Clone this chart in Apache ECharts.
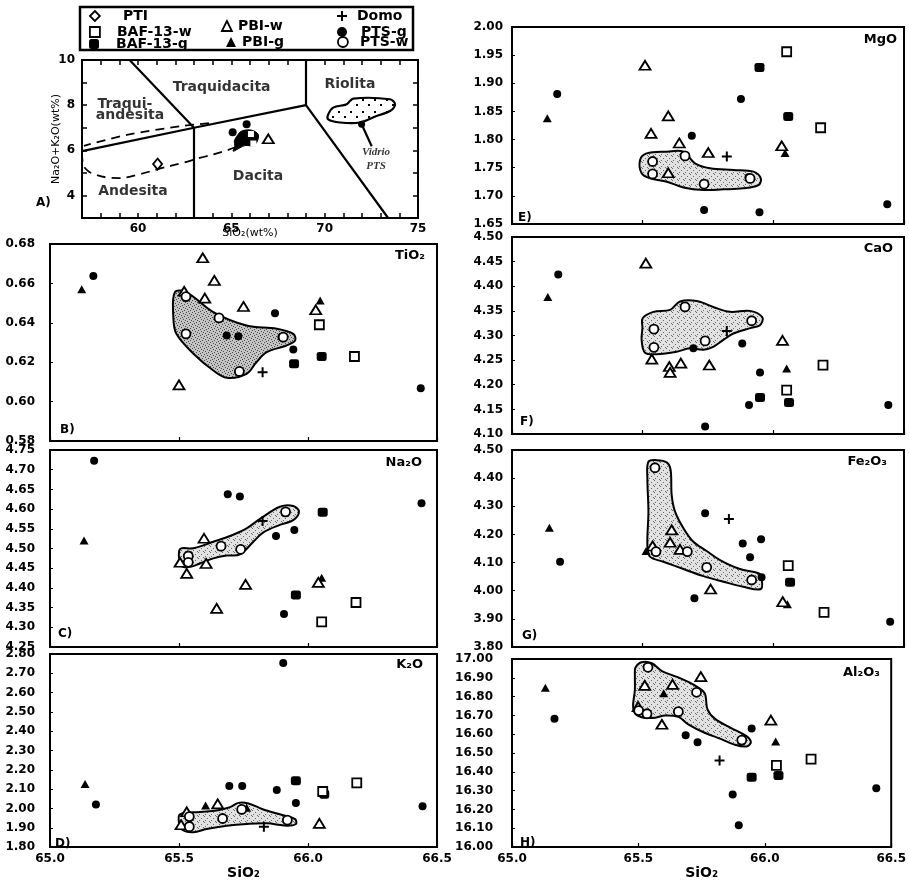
<!DOCTYPE html>
<html><head><meta charset="utf-8">
<script src="https://cdn.jsdelivr.net/npm/echarts/dist/echarts.min.js"></script>
<style>html,body{margin:0;padding:0;background:#fff}#c{width:909px;height:881px}</style>
</head><body><div id="c"></div>
<script>
// ---------------- DATA ----------------
// Panel A (TAS)
const A_PTI = [[61.05,5.39]];
const A_PTS_g = [[65.07,6.8],[65.82,7.15]];
const A_PBI_w = [[66.98,6.51]];
const A_BAF_w = [[66.05,6.72],[66.18,6.3]];
const A_cluster = [[65.29,6.62],[65.55,6.85],[66.09,6.89],[66.44,6.7],[66.39,6.4],[66.17,6.21],[65.73,6.21],[65.46,6.11],[65.1,5.96],[65.19,6.18],[65.16,6.4]];
const A_glass = [[70.19,7.59],[70.46,7.89],[71.18,8.04],[71.53,8.29],[73.5,8.26],[73.77,8.04],[73.5,7.74],[72.78,7.52],[71.89,7.23],[70.82,7.23],[70.19,7.37]];
const A_glassPointer = [[71.98,7.15],[72.52,6.18]];
const A_line1 = [[57,5.96],[63,7],[69,8]];
const A_line2 = [[63,3],[63,7],[59.55,10]];
const A_line3 = [[69,10],[69,8],[73.4,3]];
const A_dashUpper = [[63.8,7.2],[62.3,7.07],[59.4,6.68],[57.1,6.2]];
const A_dashLower = [[57.0,5.9],[57.05,5.4],[57.3,5.1],[57.7,4.93],[58.3,4.8],[59.0,4.77],[60.0,4.92],[61.3,5.22],[62.3,5.42],[63.3,5.66],[64.7,5.98],[65.4,6.2]];
const A_fieldNames = ['Traquidacita','Riolita','Traqui-','andesita','Andesita','Dacita'];
const A_fieldPos = [[64.48,8.8],[71.35,8.93],[59.3,8.04],[59.57,7.56],[59.73,4.16],[66.43,4.84]];
const A_xTicks = [60,65,70,75];
const A_yTicks = [4,6,8,10];

// Panel B TiO2
const B_PBI_w = [[65.592,0.673],[65.637,0.6615],[65.52,0.656],[65.60,0.6525],[65.75,0.6483],[65.50,0.6085],[66.03,0.6466]];
const B_PBI_g = [[65.123,0.657],[66.047,0.6513]];
const B_PTS_w = [[65.527,0.6533],[65.527,0.6344],[65.655,0.6425],[65.734,0.6153],[65.904,0.6327]];
const B_PTS_g = [[65.168,0.6637],[65.685,0.6336],[65.73,0.6332],[65.872,0.6449],[65.897,0.6328],[65.943,0.6264],[66.437,0.6068]];
const B_BAF_w = [[66.044,0.639],[66.18,0.6229]];
const B_BAF_g = [[65.946,0.6192],[66.053,0.6229]];
const B_Domo = [[65.824,0.6149]];
const B_field = [[65.484,0.6555],[65.53,0.6555],[65.633,0.6454],[65.762,0.6386],[65.879,0.637],[65.943,0.6344],[65.95,0.631],[65.917,0.6285],[65.84,0.6251],[65.80,0.62],[65.762,0.6141],[65.685,0.6121],[65.633,0.6158],[65.556,0.6243],[65.49,0.6344],[65.478,0.6428]];

// Panel C Na2O
const C_PBI_w = [[65.597,4.526],[65.504,4.465],[65.605,4.462],[65.53,4.437],[65.758,4.409],[65.646,4.348],[66.04,4.414]];
const C_PBI_g = [[65.132,4.52],[66.053,4.426]];
const C_PTS_w = [[65.913,4.593],[65.663,4.506],[65.739,4.498],[65.536,4.481],[65.536,4.465]];
const C_PTS_g = [[65.171,4.723],[65.689,4.6375],[65.736,4.632],[66.44,4.615],[65.947,4.547],[65.876,4.532],[65.907,4.334]];
const C_BAF_w = [[66.053,4.314],[66.186,4.363]];
const C_BAF_g = [[66.057,4.592],[65.953,4.382]];
const C_Domo = [[65.824,4.57]];
const C_field = [[65.504,4.4987],[65.555,4.5005],[65.633,4.517],[65.71,4.535],[65.762,4.551],[65.814,4.575],[65.891,4.606],[65.943,4.608],[65.965,4.593],[65.943,4.572],[65.891,4.56],[65.827,4.541],[65.788,4.517],[65.736,4.485],[65.685,4.482],[65.633,4.475],[65.581,4.462],[65.549,4.454],[65.51,4.456]];

// Panel D K2O
const D_PBI_w = [[66.044,1.923],[65.65,2.024],[65.53,1.983],[65.508,1.916]];
const D_PBI_g = [[65.136,2.127],[65.603,2.016],[65.762,2.004]];
const D_PTS_w = [[65.743,1.995],[65.669,1.948],[65.54,1.958],[65.54,1.906],[65.92,1.94]];
const D_PTS_g = [[65.904,2.753],[65.178,2.021],[65.695,2.117],[65.745,2.117],[65.879,2.096],[65.953,2.029],[66.444,2.012]];
const D_BAF_w = [[66.057,2.088],[66.189,2.133]];
const D_BAF_g = [[65.953,2.143],[66.063,2.074]];
const D_Domo = [[65.829,1.906]];
const D_field = [[65.504,1.97],[65.581,1.982],[65.646,1.99],[65.698,2.007],[65.73,2.029],[65.769,2.026],[65.827,1.995],[65.904,1.965],[65.95,1.945],[65.953,1.92],[65.917,1.911],[65.84,1.923],[65.762,1.92],[65.685,1.911],[65.607,1.894],[65.556,1.877],[65.517,1.886],[65.501,1.92]];

// Panel E MgO
const E_PBI_w = [[65.509,1.932],[65.598,1.842],[65.532,1.811],[65.64,1.794],[65.751,1.777],[65.598,1.741],[66.032,1.789]];
const E_PBI_g = [[65.135,1.838],[66.045,1.776]];
const E_PTS_w = [[65.538,1.761],[65.538,1.739],[65.662,1.771],[65.735,1.721],[65.911,1.731]];
const E_PTS_g = [[65.173,1.881],[65.688,1.807],[65.876,1.872],[65.905,1.733],[65.735,1.675],[65.947,1.671],[66.436,1.685]];
const E_BAF_w = [[66.051,1.956],[66.181,1.821]];
const E_BAF_g = [[65.947,1.928],[66.057,1.841]];
const E_Domo = [[65.822,1.770]];
const E_field = [[65.49,1.7637],[65.515,1.7755],[65.592,1.7785],[65.656,1.7785],[65.70,1.7578],[65.758,1.749],[65.847,1.746],[65.924,1.743],[65.952,1.731],[65.943,1.719],[65.885,1.7134],[65.809,1.7116],[65.732,1.7104],[65.656,1.715],[65.592,1.725],[65.528,1.731],[65.496,1.74]];

// Panel F CaO
const F_PBI_w = [[65.512,4.447],[65.535,4.252],[65.602,4.237],[65.605,4.225],[65.646,4.244],[65.755,4.24],[66.035,4.29]];
const F_PBI_g = [[65.137,4.378],[66.051,4.233]];
const F_PTS_w = [[65.662,4.358],[65.543,4.313],[65.543,4.276],[65.739,4.289],[65.917,4.33]];
const F_PTS_g = [[65.177,4.424],[65.694,4.274],[65.881,4.284],[65.949,4.225],[65.907,4.159],[65.739,4.115],[66.44,4.159]];
const F_BAF_w = [[66.19,4.24],[66.051,4.189]];
const F_BAF_g = [[65.949,4.174],[66.06,4.164]];
const F_Domo = [[65.822,4.309]];
const F_field = [[65.5,4.335],[65.541,4.348],[65.605,4.352],[65.643,4.369],[65.707,4.37],[65.77,4.358],[65.834,4.348],[65.911,4.35],[65.958,4.337],[65.949,4.321],[65.911,4.315],[65.847,4.304],[65.809,4.291],[65.77,4.277],[65.732,4.271],[65.681,4.274],[65.63,4.267],[65.554,4.262],[65.509,4.265],[65.496,4.291],[65.499,4.315]];

// Panel G Fe2O3
const G_PBI_w = [[65.611,4.216],[65.605,4.172],[65.538,4.159],[65.643,4.147],[65.76,4.006],[66.036,3.961]];
const G_PBI_g = [[65.143,4.224],[65.513,4.141],[66.054,3.952]];
const G_PTS_w = [[65.547,4.437],[65.551,4.139],[65.671,4.139],[65.745,4.083],[65.917,4.038]];
const G_PTS_g = [[65.184,4.103],[65.739,4.275],[65.883,4.168],[65.953,4.183],[65.911,4.119],[65.955,4.048],[65.698,3.973],[66.447,3.89]];
const G_BAF_w = [[66.057,4.089],[66.194,3.923]];
const G_BAF_g = [[66.064,4.03]];
const G_Domo = [[65.83,4.255]];
const G_field = [[65.522,4.458],[65.554,4.464],[65.592,4.456],[65.607,4.429],[65.611,4.34],[65.624,4.281],[65.656,4.222],[65.694,4.174],[65.745,4.141],[65.796,4.109],[65.872,4.077],[65.943,4.062],[65.955,4.044],[65.952,4.006],[65.885,4.014],[65.809,4.032],[65.732,4.052],[65.656,4.077],[65.579,4.103],[65.528,4.121],[65.518,4.162],[65.522,4.281],[65.518,4.399]];

// Panel H Al2O3
const H_PBI_w = [[65.747,16.906],[65.525,16.86],[65.635,16.865],[65.499,16.747],[65.593,16.653],[66.024,16.675]];
const H_PBI_g = [[65.132,16.847],[65.60,16.818],[66.043,16.562]];
const H_PTS_w = [[65.538,16.956],[65.73,16.823],[65.501,16.726],[65.534,16.709],[65.658,16.72],[65.909,16.569]];
const H_PTS_g = [[65.168,16.683],[65.687,16.594],[65.734,16.557],[65.948,16.63],[65.873,16.279],[65.897,16.116],[66.441,16.313]];
const H_BAF_w = [[66.046,16.434],[66.183,16.468]];
const H_BAF_g = [[65.948,16.372],[66.054,16.38]];
const H_Domo = [[65.821,16.461]];
const H_field = [[65.488,16.953],[65.512,16.983],[65.553,16.978],[65.593,16.936],[65.658,16.902],[65.723,16.86],[65.762,16.818],[65.773,16.734],[65.802,16.683],[65.867,16.633],[65.926,16.591],[65.945,16.557],[65.926,16.535],[65.88,16.545],[65.828,16.574],[65.762,16.608],[65.697,16.653],[65.658,16.692],[65.606,16.7],[65.567,16.688],[65.521,16.688],[65.488,16.709],[65.479,16.751],[65.486,16.835],[65.486,16.919]];

const oxideNames = ['TiO₂','Na₂O','K₂O','MgO','CaO','Fe₂O₃','Al₂O₃'];
const panelLetters = ['B)','C)','D)','E)','F)','G)','H)'];
const yRanges = [[0.58,0.68,0.02],[4.25,4.75,0.05],[1.80,2.80,0.1],[1.65,2.00,0.05],[4.10,4.50,0.05],[3.80,4.50,0.1],[16.00,17.00,0.1]];
const legendNames = ['PTI','BAF-13-w','BAF-13-g','PBI-w','PBI-g','Domo','PTS-g','PTS-w'];

// ---------------- STYLE ----------------
const FONT = 'DejaVu Sans';
function mkPattern(size, bg, dots, dotColor, ds){
  const c=document.createElement('canvas'); c.width=c.height=size;
  const g=c.getContext('2d');
  g.fillStyle=bg; g.fillRect(0,0,size,size);
  g.fillStyle=dotColor; dots.forEach(d=>g.fillRect(d[0],d[1],ds,ds));
  return {image:c, repeat:'repeat'};
}
const densePat = mkPattern(6,'#c4c4c4',[[0,0],[3,1],[1,3],[4,4],[2,5],[5,2]],'#4a4a4a',1);
const lightPat = mkPattern(6,'#e2e2e2',[[0,0],[3,2],[1,4],[5,5]],'#6a6a6a',1);
const sparsePat = mkPattern(12,'#ffffff',[[2,3],[8,8]],'#000',2);

const hollow = {color:'#fff', borderColor:'#000', borderWidth:1.8, opacity:1};
const filled = {color:'#000', borderColor:'#000', borderWidth:0, opacity:1};
const PLUS = 'path://M4,0H6V4H10V6H6V10H4V6H0V4H4Z';
const SYM = {
  'PTI':{symbol:'diamond', size:[9,11], st:hollow},
  'BAF-13-w':{symbol:'rect', size:9, st:hollow},
  'BAF-13-g':{symbol:'roundRect', size:[10,9], st:filled},
  'PBI-w':{symbol:'triangle', size:[11,9], st:hollow},
  'PBI-g':{symbol:'triangle', size:[9,8], st:filled},
  'Domo':{symbol:PLUS, size:10, st:filled},
  'PTS-g':{symbol:'circle', size:8, st:filled},
  'PTS-w':{symbol:'circle', size:9, st:hollow}
};
const ORDER = ['BAF-13-g','PTS-g','PBI-g','BAF-13-w','PBI-w','PTS-w','Domo'];

const panels = [
  {d:{'PBI-w':B_PBI_w,'PBI-g':B_PBI_g,'PTS-w':B_PTS_w,'PTS-g':B_PTS_g,'BAF-13-w':B_BAF_w,'BAF-13-g':B_BAF_g,'Domo':B_Domo}, f:B_field, pat:densePat},
  {d:{'PBI-w':C_PBI_w,'PBI-g':C_PBI_g,'PTS-w':C_PTS_w,'PTS-g':C_PTS_g,'BAF-13-w':C_BAF_w,'BAF-13-g':C_BAF_g,'Domo':C_Domo}, f:C_field, pat:lightPat},
  {d:{'PBI-w':D_PBI_w,'PBI-g':D_PBI_g,'PTS-w':D_PTS_w,'PTS-g':D_PTS_g,'BAF-13-w':D_BAF_w,'BAF-13-g':D_BAF_g,'Domo':D_Domo}, f:D_field, pat:lightPat},
  {d:{'PBI-w':E_PBI_w,'PBI-g':E_PBI_g,'PTS-w':E_PTS_w,'PTS-g':E_PTS_g,'BAF-13-w':E_BAF_w,'BAF-13-g':E_BAF_g,'Domo':E_Domo}, f:E_field, pat:lightPat},
  {d:{'PBI-w':F_PBI_w,'PBI-g':F_PBI_g,'PTS-w':F_PTS_w,'PTS-g':F_PTS_g,'BAF-13-w':F_BAF_w,'BAF-13-g':F_BAF_g,'Domo':F_Domo}, f:F_field, pat:lightPat},
  {d:{'PBI-w':G_PBI_w,'PBI-g':G_PBI_g,'PTS-w':G_PTS_w,'PTS-g':G_PTS_g,'BAF-13-w':G_BAF_w,'BAF-13-g':G_BAF_g,'Domo':G_Domo}, f:G_field, pat:lightPat},
  {d:{'PBI-w':H_PBI_w,'PBI-g':H_PBI_g,'PTS-w':H_PTS_w,'PTS-g':H_PTS_g,'BAF-13-w':H_BAF_w,'BAF-13-g':H_BAF_g,'Domo':H_Domo}, f:H_field, pat:lightPat}
];

// layout
const gridRects = [
  {left:82, top:60, width:336, height:158},
  {left:50, top:244, width:387, height:197},
  {left:50, top:450, width:387, height:197},
  {left:50, top:654, width:387, height:198},
  {left:512, top:27, width:392, height:197},
  {left:512, top:237, width:392, height:197},
  {left:512, top:450, width:392, height:197},
  {left:512, top:659, width:383, height:198}
];
const yMargins = [15,15,15,9,9,9,19];
const oxidePos = [[484,249],[487,456],[486,658],[12,33],[16,242],[22,455],[29,666]];
const letterPos = [[60,424],[58,628],[55,838],[518,212],[520,416],[522,630],[520,837]];

const grids = gridRects.map(r=>Object.assign({show:true, borderColor:'#000', borderWidth:2, backgroundColor:'rgba(0,0,0,0)'}, r));

const tickLbl = {fontFamily:FONT, fontWeight:'bold', fontSize:12, color:'#000'};
const xAxes = [], yAxes = [];
// Panel A axes
xAxes.push({type:'value', gridIndex:0, min:57, max:75, interval:1, axisLine:{show:false},
  axisTick:{inside:true, length:5, lineStyle:{color:'#000', width:1.5}},
  axisLabel:Object.assign({margin:5, formatter:v=>A_xTicks.includes(v)?String(v):''}, tickLbl),
  splitLine:{show:false}, name:'SiO₂(wt%)', nameLocation:'middle', nameGap:10, nameMoveOverlap:false,
  nameTextStyle:{fontFamily:FONT, fontSize:11, color:'#000'}});
xAxes.push({type:'value', gridIndex:0, position:'top', min:57, max:75, interval:1, axisLine:{show:false},
  axisTick:{inside:true, length:5, lineStyle:{color:'#000', width:1.5}}, axisLabel:{show:false}, splitLine:{show:false}});
yAxes.push({type:'value', gridIndex:0, min:3, max:10, interval:1, axisLine:{show:false},
  axisTick:{inside:true, length:5, lineStyle:{color:'#000', width:1.5}},
  axisLabel:Object.assign({margin:7, formatter:v=>A_yTicks.includes(v)?String(v):''}, tickLbl),
  splitLine:{show:false}, name:'Na₂O+K₂O(wt%)', nameLocation:'middle', nameGap:20, nameMoveOverlap:false,
  nameTextStyle:{fontFamily:FONT, fontSize:11, color:'#000'}});
yAxes.push({type:'value', gridIndex:0, position:'right', min:3, max:10, interval:1, axisLine:{show:false},
  axisTick:{inside:true, length:5, lineStyle:{color:'#000', width:1.5}}, axisLabel:{show:false}, splitLine:{show:false}});

panels.forEach((p,k)=>{
  const gi = k+1;
  const bottom = (k===2 || k===6);
  xAxes.push({type:'value', gridIndex:gi, min:65, max:66.5, interval:0.5, axisLine:{show:false},
    axisTick:{inside:true, length:4, lineStyle:{color:'#000', width:1.2}},
    axisLabel:Object.assign({show:bottom, margin:6, formatter:v=>v.toFixed(1)}, tickLbl),
    splitLine:{show:false}, name:bottom?'SiO₂':'', nameLocation:'middle', nameGap:9,
    nameTextStyle:{fontFamily:FONT, fontWeight:'bold', fontSize:14, color:'#000'}});
  const yr = yRanges[k];
  yAxes.push({type:'value', gridIndex:gi, min:yr[0], max:yr[1], interval:yr[2], axisLine:{show:false},
    axisTick:{inside:true, length:3, lineStyle:{color:'#000', width:1}},
    axisLabel:Object.assign({margin:yMargins[k], showMinLabel:true, showMaxLabel:true, formatter:v=>v.toFixed(2)}, tickLbl),
    splitLine:{show:false}});
});

function polySeries(ai, pts, fill, lw, z){
  return {type:'custom', xAxisIndex:ai, yAxisIndex:ai, silent:true, z:z||1, data:[pts[0]],
    renderItem:(params, api)=>({type:'polygon', shape:{points:pts.map(q=>api.coord(q)), smooth:0.35},
      style:{fill:fill, stroke:'#000', lineWidth:lw}})};
}
function lineSeries(pts, dashed, smooth){
  return {type:'line', xAxisIndex:0, yAxisIndex:0, data:pts, symbol:'none', silent:true, smooth:smooth||false,
    lineStyle:{color:'#000', width:dashed?1.8:2.2, type:dashed?[9,6]:'solid'}, z:2, clip:true};
}
function scatter(name, ai, data){
  const s = SYM[name];
  return {type:'scatter', name:name, xAxisIndex:ai, yAxisIndex:ai, data:data, symbol:s.symbol, symbolSize:s.size,
    itemStyle:Object.assign({}, s.st), emphasis:{disabled:true}, z:3};
}

const series = [];
// Panel A
series.push(lineSeries(A_line1,false));
series.push(lineSeries(A_line2,false));
series.push(lineSeries(A_line3,false));
series.push(lineSeries(A_dashUpper,true,0.3));
series.push(lineSeries(A_dashLower,true,0.4));
series.push(lineSeries(A_glassPointer,false));
series.push(polySeries(0, A_glass, sparsePat, 2.2, 2));
series.push(polySeries(0, A_cluster, '#000', 1, 2));
series.push(scatter('PTI',0,A_PTI));
series.push(scatter('PTS-g',0,A_PTS_g));
series.push(scatter('PBI-w',0,A_PBI_w));
series.push(Object.assign(scatter('BAF-13-w',0,A_BAF_w),{symbolSize:6, itemStyle:{color:'#fff', borderColor:'#fff', borderWidth:0, opacity:1}}));
series.push(Object.assign(scatter('PTS-g',0,[A_glassPointer[0]]),{symbolSize:7}));
series.push({type:'scatter', xAxisIndex:0, yAxisIndex:0, silent:true, symbolSize:1, itemStyle:{color:'rgba(0,0,0,0)'},
  data:A_fieldNames.map((n,i)=>({name:n, value:A_fieldPos[i]})),
  label:{show:true, position:'inside', formatter:'{b}', fontFamily:FONT, fontWeight:'bold', fontSize:14, color:'#000'}, z:4});
series.push({type:'scatter', xAxisIndex:0, yAxisIndex:0, silent:true, symbolSize:1, itemStyle:{color:'rgba(0,0,0,0)'},
  data:[{name:'Vidrio\nPTS', value:[72.75,5.6]}],
  label:{show:true, position:'inside', formatter:'{b}', fontFamily:'Liberation Serif', fontStyle:'italic', fontWeight:'bold', fontSize:11, lineHeight:14, color:'#000'}, z:4});

panels.forEach((p,k)=>{
  const ai = k+2;
  series.push(polySeries(ai, p.f, p.pat, 2, 1));
  ORDER.forEach(n=>{ if(p.d[n]) series.push(scatter(n, ai, p.d[n])); });
});

// legends
const legPos = {
  'PTI':[89,9,18], 'BAF-13-w':[89,25,12], 'BAF-13-g':[89,37,12],
  'PBI-w':[221,19,1], 'PBI-g':[226,35,1],
  'Domo':[337,9,5], 'PTS-g':[337,25,9], 'PTS-w':[337,35,7]
};
const legends = legendNames.map(n=>({
  data:[n], left:legPos[n][0], top:legPos[n][1], padding:0, itemGap:0, itemWidth:10, itemHeight:10,
  icon:SYM[n].symbol, itemStyle:Object.assign({}, SYM[n].st),
  textStyle:{fontFamily:FONT, fontWeight:'bold', fontSize:14, color:'#000', padding:[0,0,0,legPos[n][2]]}
}));

const titles = [];
oxideNames.forEach((t,k)=>titles.push({text:t, right:oxidePos[k][0], top:oxidePos[k][1], padding:0,
  textStyle:{fontFamily:FONT, fontWeight:'bold', fontSize:13, color:'#000'}}));
panelLetters.forEach((t,k)=>titles.push({text:t, left:letterPos[k][0], top:letterPos[k][1], padding:0,
  textStyle:{fontFamily:FONT, fontWeight:'bold', fontSize:12, color:'#000'}}));
titles.push({text:'A)', left:36, top:197, padding:0, textStyle:{fontFamily:FONT, fontWeight:'bold', fontSize:12, color:'#000'}});

const chart = echarts.init(document.getElementById('c'), null, {renderer:'canvas'});
chart.setOption({
  animation:false,
  backgroundColor:'#fff',
  title:titles,
  legend:legends,
  grid:grids,
  xAxis:xAxes,
  yAxis:yAxes,
  series:series,
  graphic:[{type:'rect', shape:{x:80, y:7, width:333, height:43}, style:{fill:'none', stroke:'#000', lineWidth:2.5}, silent:true, z:0}]
});
</script></body></html>
